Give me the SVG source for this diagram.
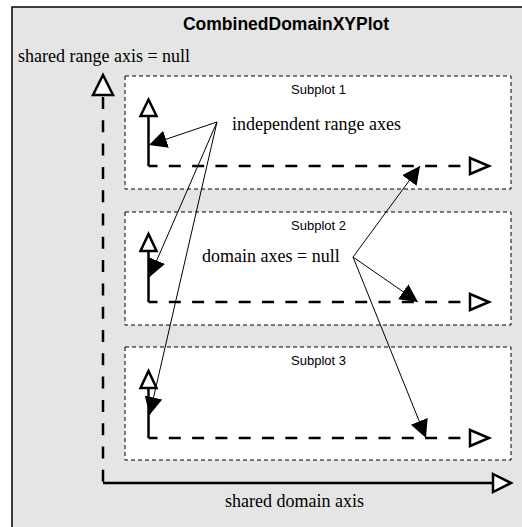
<svg xmlns="http://www.w3.org/2000/svg" width="522" height="527" viewBox="0 0 522 527">
<defs>
<style>
.frame{fill:#e5e5e5;stroke:#000;stroke-width:1.5}
.box{fill:#fff;stroke:#000;stroke-width:1;stroke-dasharray:4,3}
.axis{fill:none;stroke:#000;stroke-width:2.5}
.dash{fill:none;stroke:#000;stroke-width:2.5;stroke-dasharray:12,11.3}
.tri{fill:#fff;stroke:#000;stroke-width:2.5}
.ptr{fill:none;stroke:#000;stroke-width:1;marker-end:url(#ah)}
.serif{font-family:"Liberation Serif","Times New Roman",serif;font-size:18px;fill:#000}
.sans{font-family:"Liberation Sans",Arial,sans-serif;font-size:13px;fill:#000}
.title{font-family:"Liberation Sans",Arial,sans-serif;font-size:17.5px;font-weight:bold;fill:#000}
</style>
<marker id="ah" markerUnits="userSpaceOnUse" markerWidth="20" markerHeight="20" refX="18" refY="9" orient="auto" viewBox="0 0 20 20"><path d="M0,0 L18,9 L0,18 z" fill="#000"/></marker>
</defs>

<g id="plot">
<rect class="frame" x="12" y="7" width="540" height="540"/>
<text class="title" x="286" y="30" text-anchor="middle">CombinedDomainXYPlot</text>
</g>

<g id="shared-range-axis">
<text class="serif" x="18" y="62">shared range axis = null</text>
<line class="dash" x1="103" y1="95" x2="103" y2="483" style="stroke-dashoffset:-2"/>
<polygon class="tri" points="93,95 103,75 113,95"/>
</g>

<g id="shared-domain-axis">
<line class="axis" x1="103" y1="483" x2="493" y2="483"/>
<polygon class="tri" points="493,474 511,483 493,492"/>
<text class="serif" x="225" y="507">shared domain axis</text>
</g>

<g id="subplot1">
<rect class="box" x="125" y="76" width="386" height="113"/>
<text class="sans" x="318.5" y="93.5" text-anchor="middle">Subplot 1</text>
<line class="axis" x1="148.5" y1="116" x2="148.5" y2="166"/>
<line class="dash" x1="148.5" y1="166" x2="470" y2="166" style="stroke-dashoffset:3"/>
<polygon class="tri" points="140.5,116 148.5,99.5 156.5,116"/>
<polygon class="tri" points="470,158 489,166 470,174"/>
</g>

<g id="subplot2">
<rect class="box" x="125" y="212" width="386" height="113"/>
<text class="sans" x="318.5" y="229.5" text-anchor="middle">Subplot 2</text>
<line class="axis" x1="148.5" y1="251" x2="148.5" y2="302"/>
<line class="dash" x1="148.5" y1="302" x2="470" y2="302" style="stroke-dashoffset:3"/>
<polygon class="tri" points="140.5,251 148.5,234 156.5,251"/>
<polygon class="tri" points="470,294 489,302 470,310"/>
</g>

<g id="subplot3">
<rect class="box" x="125" y="347" width="386" height="113"/>
<text class="sans" x="318.5" y="364.5" text-anchor="middle">Subplot 3</text>
<line class="axis" x1="148.5" y1="388" x2="148.5" y2="438"/>
<line class="dash" x1="148.5" y1="438" x2="470" y2="438" style="stroke-dashoffset:3"/>
<polygon class="tri" points="140.5,388 148.5,371 156.5,388"/>
<polygon class="tri" points="470,430 489,438 470,446"/>
</g>

<g id="label-range">
<text class="serif" x="232" y="130">independent range axes</text>
</g>
<g id="label-domain">
<text class="serif" x="202" y="262">domain axes = null</text>
</g>

<g id="connectors">
<line class="ptr" x1="217" y1="122" x2="149" y2="145"/>
<line class="ptr" x1="217" y1="122" x2="149.5" y2="277"/>
<line class="ptr" x1="217" y1="122" x2="149.5" y2="415"/>
<line class="ptr" x1="353" y1="257" x2="420" y2="166"/>
<line class="ptr" x1="353" y1="257" x2="418" y2="302"/>
<line class="ptr" x1="353" y1="257" x2="426" y2="438"/>
</g>
</svg>
